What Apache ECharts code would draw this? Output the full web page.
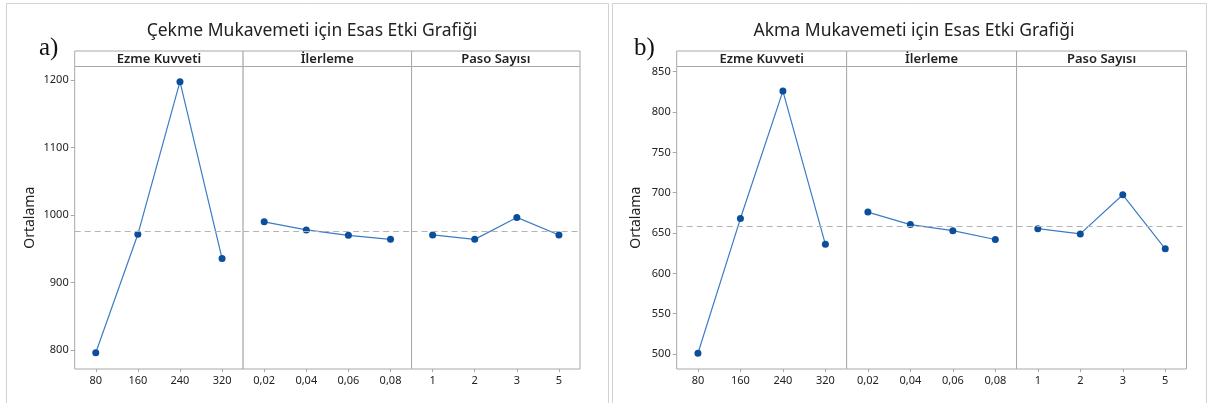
<!DOCTYPE html>
<html>
<head>
<meta charset="utf-8">
<script src="https://cdn.jsdelivr.net/npm/echarts@6/dist/echarts.min.js"></script>
<style>
html,body{margin:0;padding:0;background:#fff;}
#c{width:1208px;height:403px;}
</style>
</head>
<body>
<div id="c"></div>
<script>
// ---- data ----
const factorNames = ['Ezme Kuvveti', 'İlerleme', 'Paso Sayısı'];
const ezmeCats = ['80', '160', '240', '320'];
const ilerlemeCats = ['0,02', '0,04', '0,06', '0,08'];
const pasoCats = ['1', '2', '3', '5'];

const cekmeTitle = 'Çekme Mukavemeti için Esas Etki Grafiği';
const cekmeEzme = [796, 971.5, 1197.5, 935.5];
const cekmeIlerleme = [990, 978, 970, 964];
const cekmePaso = [970.5, 964, 996.5, 970.5];
const cekmeMean = 975.3;
const cekmeTicks = [800, 900, 1000, 1100, 1200];

const akmaTitle = 'Akma Mukavemeti için Esas Etki Grafiği';
const akmaEzme = [501, 668, 826, 636];
const akmaIlerleme = [676, 660.5, 653, 642];
const akmaPaso = [655.5, 649, 697.5, 630.5];
const akmaMean = 658;
const akmaTicks = [500, 550, 600, 650, 700, 750, 800, 850];

const yName = 'Ortalama';

// ---- layout ----
const FONT = 'Noto Sans';
const charts = [
  { label: 'a)', title: cekmeTitle, box: [6, 3, 602], plotLeft: 74.7, plotRight: 580,
    min: 772, max: 1220, ticks: cekmeTicks, mean: cekmeMean, nameGap: 38,
    series: [cekmeEzme, cekmeIlerleme, cekmePaso] },
  { label: 'b)', title: akmaTitle, box: [612, 3, 594], plotLeft: 676.7, plotRight: 1186.5,
    min: 481.5, max: 856.5, ticks: akmaTicks, mean: akmaMean, nameGap: 34,
    series: [akmaEzme, akmaIlerleme, akmaPaso] }
];
const catsList = [ezmeCats, ilerlemeCats, pasoCats];
const plotTop = 66.5, plotBottom = 369, headerTop = 51;

const grid = [], xAxis = [], yAxis = [], series = [], graphic = [], title = [];
const frame = '#a8a8a8';

charts.forEach((ch, ci) => {
  graphic.push({ type: 'rect', silent: true, z: -10,
    shape: { x: ch.box[0] + 0.5, y: ch.box[1] + 0.5, width: ch.box[2], height: 460 },
    style: { fill: '#fff', stroke: '#d2d2d2', lineWidth: 1 } });
  title.push({ text: ch.title, left: ch.box[0] + ch.box[2] / 2, top: 17, textAlign: 'center',
    textStyle: { fontFamily: FONT, fontSize: 17.5, fontWeight: 'normal', color: '#222' } });
  title.push({ text: ch.label, left: ci === 0 ? 34 : 629, top: 31,
    textStyle: { fontFamily: 'Liberation Serif', fontSize: 25, fontWeight: 'normal', color: '#111' } });
  const pw = (ch.plotRight - ch.plotLeft) / 3;
  for (let p = 0; p < 3; p++) {
    const gi = grid.length;
    const left = ch.plotLeft + p * pw;
    grid.push({ left: left, top: plotTop, width: pw, height: plotBottom - plotTop,
      show: true, borderColor: frame, borderWidth: 1, backgroundColor: '#fff', containLabel: false });
    graphic.push({ type: 'rect', silent: true,
      shape: { x: left, y: headerTop, width: pw, height: plotTop - headerTop },
      style: { fill: '#fff', stroke: frame, lineWidth: 1 } });
    graphic.push({ type: 'text', silent: true, x: left + pw / 2, y: (headerTop + plotTop) / 2 + 0.5,
      style: { text: factorNames[p], fontFamily: FONT, fontSize: 13, fontWeight: 600, fill: '#222',
        align: 'center', verticalAlign: 'middle' } });
    xAxis.push({ type: 'category', gridIndex: gi, data: catsList[p], boundaryGap: true,
      axisLine: { show: false },
      axisTick: { show: true, alignWithLabel: true, length: 3, lineStyle: { color: frame } },
      axisLabel: { fontFamily: FONT, fontSize: 11, color: '#222', margin: 6 },
      splitLine: { show: false } });
    const first = p === 0;
    yAxis.push({ type: 'value', gridIndex: gi, min: ch.min, max: ch.max, scale: true,
      name: first ? yName : '', nameLocation: 'middle', nameGap: ch.nameGap,
      nameTextStyle: { fontFamily: FONT, fontSize: 14, color: '#222' },
      axisLine: { show: false },
      axisTick: { show: first, length: 4, customValues: ch.ticks, lineStyle: { color: frame } },
      axisLabel: { show: first, customValues: ch.ticks, fontFamily: FONT, fontSize: 11, color: '#222', margin: 6,
        formatter: v => String(v) },
      splitLine: { show: false } });
    series.push({ type: 'line', xAxisIndex: gi, yAxisIndex: gi, data: ch.series[p],
      symbol: 'circle', symbolSize: 7, showSymbol: true,
      itemStyle: { color: '#0b4f9c' },
      lineStyle: { color: '#3b7cc4', width: 1.2 },
      markLine: { silent: true, symbol: 'none', label: { show: false },
        lineStyle: { type: [6, 4], color: '#b4b4b4', width: 1.2 },
        data: [{ yAxis: ch.mean }] },
      z: 3 });
  }
});

const chart = echarts.init(document.getElementById('c'), null, { renderer: 'canvas' });
chart.setOption({
  animation: false,
  backgroundColor: '#fff',
  title: title,
  grid: grid,
  xAxis: xAxis,
  yAxis: yAxis,
  series: series,
  graphic: graphic
});
</script>
</body>
</html>
